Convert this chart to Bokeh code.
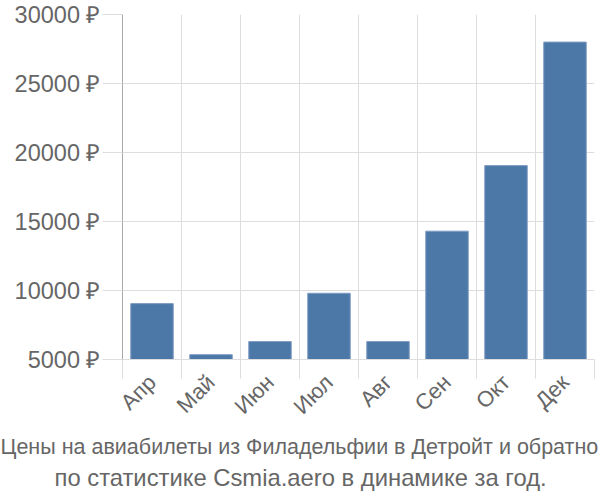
import math
from bokeh.plotting import figure
from bokeh.models import FixedTicker, Range1d, Title, CustomJSTickFormatter
from bokeh.embed import file_html
from bokeh.resources import INLINE

months = ["Апр", "Май", "Июн", "Июл", "Авг", "Сен", "Окт", "Дек"]
prices = [9050, 5350, 6300, 9800, 6300, 14300, 19050, 28000]
y_ticks = [5000, 10000, 15000, 20000, 25000, 30000]
title_lines = ["Цены на авиабилеты из Филадельфии в Детройт и обратно",
               "по статистике Csmia.aero в динамике за год."]

FONT = "Liberation Sans"
GREY = "#666666"

n = len(months)
xs = [i + 0.5 for i in range(n)]

p = figure(width=600, height=500, output_backend="svg", toolbar_location=None,
           x_range=Range1d(0, n), y_range=Range1d(5000, 30000),
           min_border_left=122, min_border_right=6, min_border_top=14,
           min_border_bottom=0)
p.outline_line_color = None
p.background_fill_color = "white"

p.vbar(x=xs, top=prices, bottom=5000, width=0.72,
       fill_color="#4c78a8", line_color="#7f9cc4", line_width=1)

# x axis: labels at centres, ticks at boundaries (minor ticks)
p.xaxis.ticker = FixedTicker(ticks=xs, minor_ticks=list(range(n + 1)))
p.xaxis.major_label_overrides = {x: m for x, m in zip(xs, months)}
p.xaxis.major_tick_line_color = None
p.xaxis.minor_tick_in = 0
p.xaxis.minor_tick_out = 19
p.xaxis.minor_tick_line_color = "#dddddd"
p.xaxis.axis_line_color = "#dddddd"
p.xaxis.major_label_orientation = math.pi / 4
p.xaxis.major_label_text_font = FONT
p.xaxis.major_label_text_font_size = "22px"
p.xaxis.major_label_text_color = GREY
p.xaxis.major_label_standoff = 0

p.xgrid.ticker = FixedTicker(ticks=list(range(n + 1)))
p.xgrid.grid_line_color = "#dddddd"
p.xgrid.grid_line_width = 1

# y axis
p.yaxis.ticker = FixedTicker(ticks=y_ticks)
p.yaxis.formatter = CustomJSTickFormatter(code="return tick + ' \u20bd';")
p.yaxis.major_tick_in = 0
p.yaxis.major_tick_out = 20
p.yaxis.major_tick_line_color = "#dddddd"
p.yaxis.minor_tick_line_color = None
p.yaxis.axis_line_color = "#aaaaaa"
p.yaxis.major_label_text_font = FONT
p.yaxis.major_label_text_font_size = "23.5px"
p.yaxis.major_label_text_color = GREY
p.yaxis.major_label_standoff = 2
p.ygrid.grid_line_color = "#dddddd"

sizes = ["21.5px", "23.8px"]
offsets = [-122, -68]
standoffs = [4, 2]
for line, fs, off, so in zip(title_lines, sizes, offsets, standoffs):
    t = Title(text=line, align="left", text_font=FONT, text_font_size=fs,
              text_color=GREY, text_font_style="normal", offset=off,
              standoff=so)
    p.add_layout(t, "below")

# spacer below the two caption lines
p.add_layout(Title(text=" ", text_font_size="7px", standoff=0), "below")

open("out.html", "w").write(file_html(p, INLINE))
